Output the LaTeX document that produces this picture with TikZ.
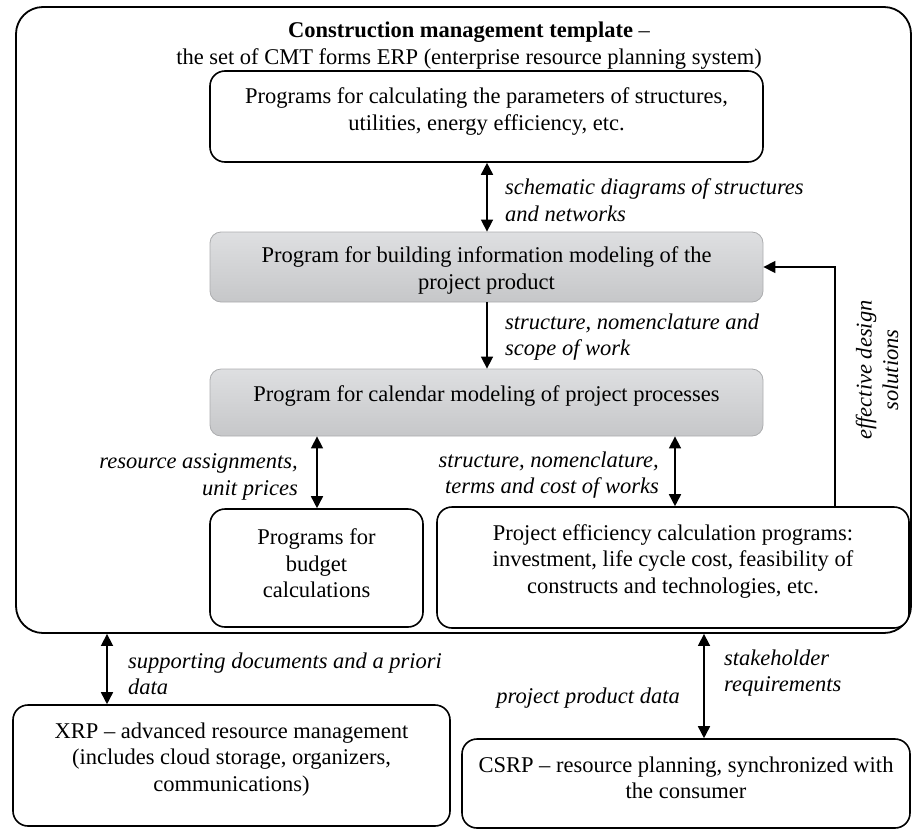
\documentclass[tikz,border=0pt]{standalone}
\usepackage{fontspec}
\setmainfont{Liberation Serif}
\usetikzlibrary{arrows.meta,calc}
\definecolor{greytop}{RGB}{222,223,225}
\definecolor{greybot}{RGB}{198,199,201}
\definecolor{greyline}{RGB}{172,173,175}
\begin{document}
\begin{tikzpicture}[x=1pt,y=-1pt,
  every node/.style={font=\fontsize{22.5}{26.5}\selectfont, inner sep=0pt},
  frame/.style={draw, line width=1.8pt, rounded corners=27pt},
  wbox/.style={draw, line width=1.6pt, rounded corners=15pt, fill=white},
  gbox/.style={draw=greyline, line width=0.8pt, rounded corners=11pt,
    top color=greytop, bottom color=greybot},
  txt/.style={align=center},
  lbl/.style={font=\fontsize{22.5}{26.5}\selectfont\itshape},
  conn/.style={line width=1.6pt, -{Triangle[length=12pt,width=12pt]}},
  bconn/.style={line width=1.6pt, {Triangle[length=12pt,width=12pt]}-{Triangle[length=12pt,width=12pt]}},
]
\useasboundingbox (0,0) rectangle (913,833);

% outer frame: the ERP template
\node[frame, minimum width=895pt, minimum height=626pt] (frame) at (463.5,320) {};
\node[txt] (title) at (469,45.5)
  {\textbf{Construction management template} --\\
   the set of CMT forms ERP (enterprise resource planning system)};

% program boxes
\node[wbox, minimum width=553pt, minimum height=91pt] (b1) at (486.5,116.5) {};
\node[txt] (b1t) at (486.5,111.5)
  {Programs for calculating the parameters of structures,\\
   utilities, energy efficiency, etc.};

\node[gbox, minimum width=553pt, minimum height=70pt] (b2) at (486.5,267) {};
\node[txt] (b2t) at (486.5,270.5)
  {Program for building information modeling of the\\project product};

\node[gbox, minimum width=553pt, minimum height=67pt] (b3) at (486.5,402.5) {};
\node[txt] (b3t) at (486.5,396)
  {Program for calendar modeling of project processes};

\node[wbox, minimum width=213pt, minimum height=118pt] (b4) at (316.5,568) {};
\node[txt] (b4t) at (316.5,563.5) {Programs for\\budget\\calculations};

\node[wbox, minimum width=472pt, minimum height=121pt] (b5) at (673,567.5) {};
\node[txt] (b5t) at (673,561)
  {Project efficiency calculation programs:\\
   investment, life cycle cost, feasibility of\\
   constructs and technologies, etc.};

% external systems
\node[wbox, minimum width=437pt, minimum height=121pt] (xrp) at (231.5,765.5) {};
\node[txt] (xrpt) at (231.5,759.5)
  {XRP -- advanced resource management\\
   (includes cloud storage, organizers,\\
   communications)};

\node[wbox, minimum width=448pt, minimum height=89pt] (csrp) at (686,783.5) {};
\node[txt] (csrpt) at (686,778)
  {CSRP -- resource planning, synchronized with\\the consumer};

% connector columns
\coordinate (ax1) at (487,0);
\coordinate (ax3) at (317,0);
\coordinate (ax4) at (675,0);
\coordinate (fx) at (835,0);
\coordinate (ax5) at (107,0);
\coordinate (ax6) at (704,0);

\draw[bconn] (b1.south -| ax1) -- (b2.north -| ax1);
\draw[conn] (b2.south -| ax1) -- (b3.north -| ax1);
\draw[bconn] (b3.south -| ax3) -- (b4.north -| ax3);
\draw[bconn] (b3.south -| ax4) -- (b5.north -| ax4);
\draw[conn] (b5.north -| fx) -- (fx |- b2.east) -- (b2.east);
\draw[bconn] (frame.south -| ax5) -- (xrp.north -| ax5);
\draw[bconn] (frame.south -| ax6) -- (csrp.north -| ax6);

% connector labels
\node[lbl, anchor=west, align=left] (l1) at (505,200)
  {schematic diagrams of structures\\and networks};
\node[lbl, anchor=west, align=left] (l2) at (505,337)
  {structure, nomenclature and\\scope of work};
\node[lbl, anchor=east, align=right] (l3) at (298,477)
  {resource assignments,\\unit prices};
\node[lbl, anchor=east, align=right] (l4) at (659,475)
  {structure, nomenclature,\\terms and cost of works};
\node[lbl, rotate=90, align=center] (l5) at (877,370)
  {effective design\\solutions};
\node[lbl, anchor=west, align=left] (l6) at (128,674)
  {supporting documents and a priori\\data};
\node[lbl, anchor=west, align=left] (l7) at (724,673)
  {stakeholder\\requirements};
\node[lbl, anchor=east] (l8) at (680,698) {project product data};
\end{tikzpicture}
\end{document}
